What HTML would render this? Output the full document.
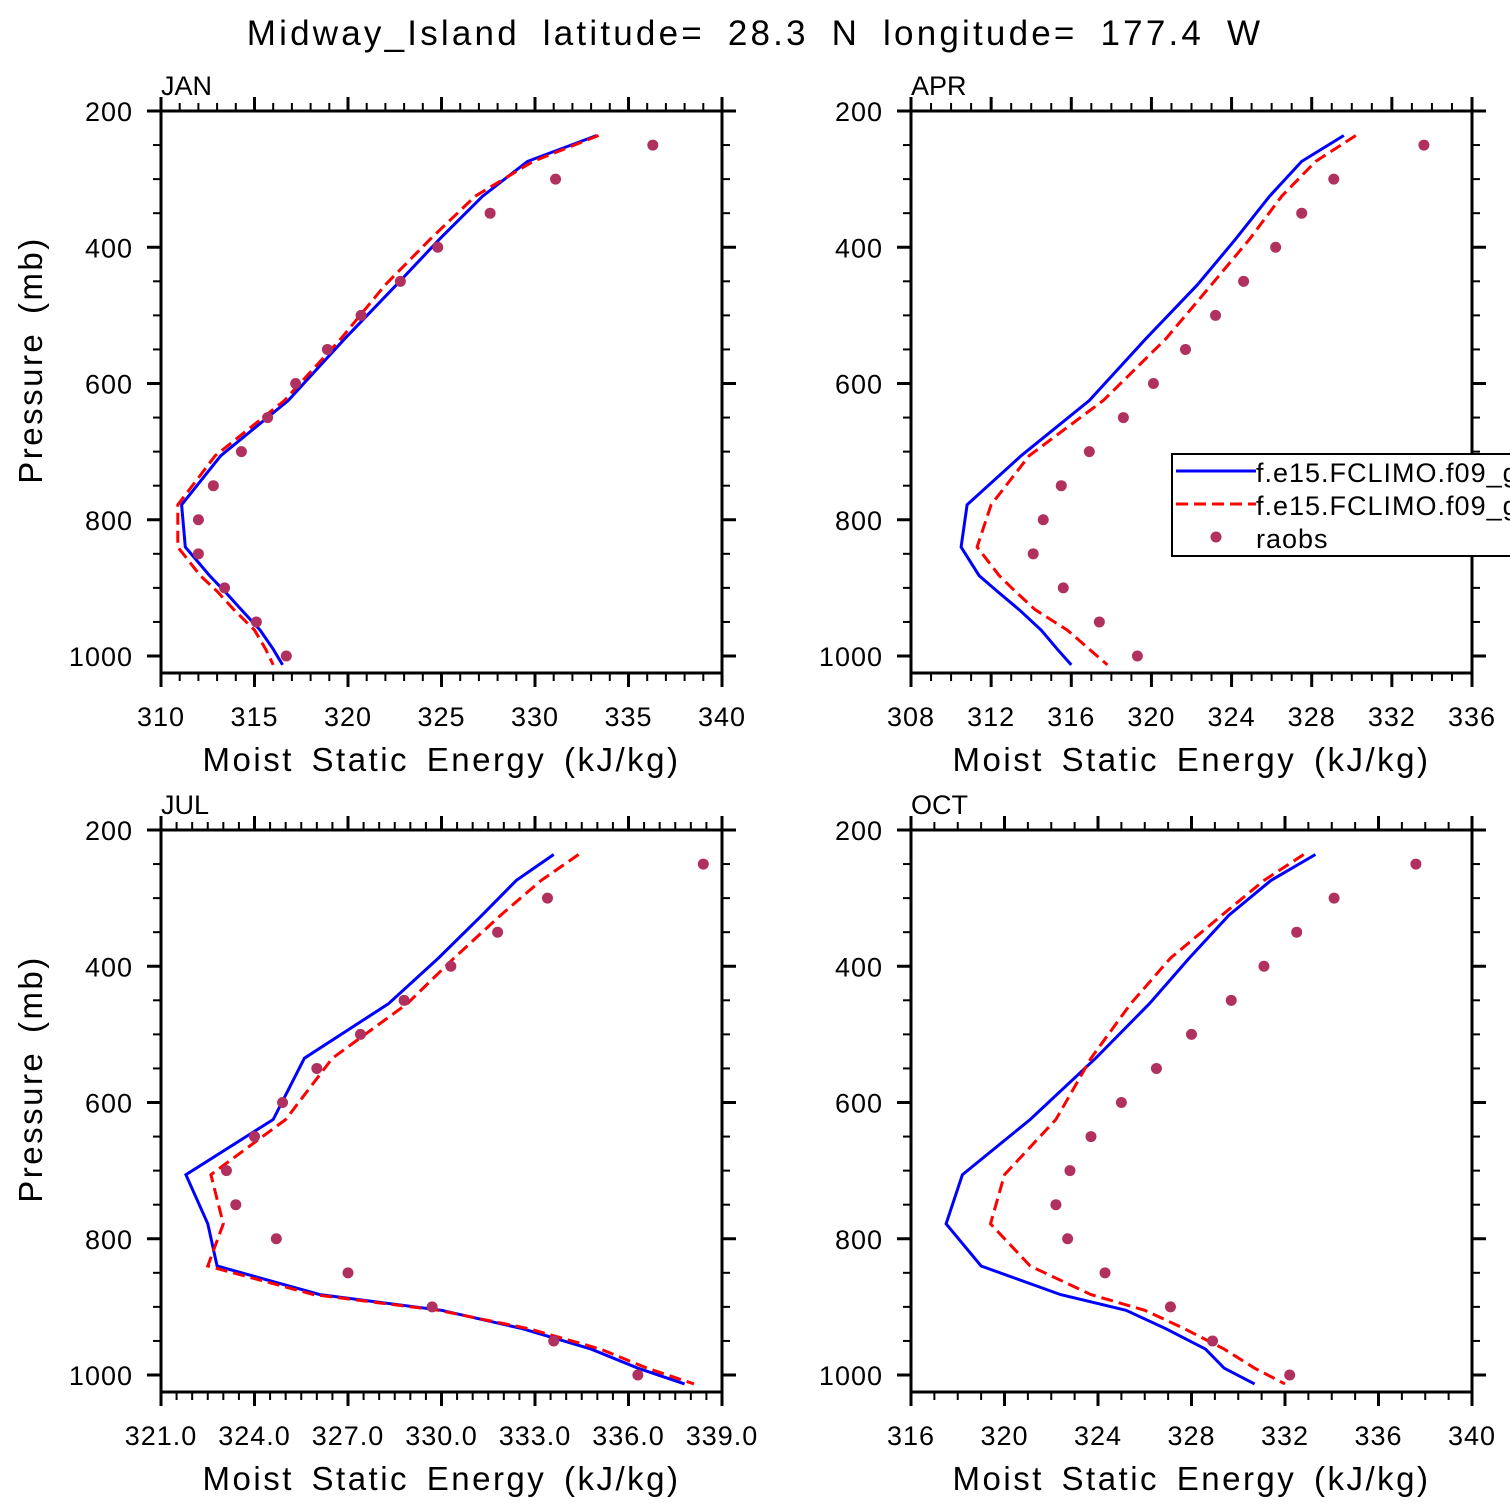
<!DOCTYPE html>
<html><head><meta charset="utf-8"><style>
html,body{margin:0;padding:0;background:#fff;}
svg{display:block;font-family:"Liberation Sans","DejaVu Sans",sans-serif;}
</style></head><body>
<svg id="chart" width="1510" height="1510" viewBox="0 0 1510 1510" xmlns="http://www.w3.org/2000/svg">
<text x="755" y="45" font-size="35" text-anchor="middle" letter-spacing="3.2" word-spacing="10">Midway_Island   latitude=  28.3 N  longitude=  177.4  W</text>
</svg>
<script>
const pLevels=[236,274,325,388,455,535,625,706,778,840,882,905,932,962,990,1013];
const raobP=[250,300,350,400,450,500,550,600,650,700,750,800,850,900,950,1000];
const janBlue=[333.3,329.6,327.2,324.9,322.6,319.8,316.8,313.2,311.1,311.3,312.6,313.4,314.3,315.3,316.0,316.5];
const janRed=[333.4,329.9,326.8,324.4,322.0,319.6,316.6,312.9,310.9,310.9,312.1,313.0,313.9,315.0,315.6,316.0];
const janObs=[336.3,331.1,327.6,324.8,322.8,320.7,318.9,317.2,315.7,314.3,312.8,312.0,312.0,313.4,315.1,316.7];
const aprBlue=[329.6,327.5,325.9,324.2,322.3,319.7,316.9,313.5,310.8,310.5,311.4,312.3,313.4,314.5,315.3,316.0];
const aprRed=[330.2,328.2,326.5,324.9,323.0,320.7,317.6,313.9,312.0,311.3,312.4,313.2,314.2,315.8,316.9,317.8];
const aprObs=[333.6,329.1,327.5,326.2,324.6,323.2,321.7,320.1,318.6,316.9,315.5,314.6,314.1,315.6,317.4,319.3];
const julBlue=[333.6,332.4,331.3,329.9,328.3,325.6,324.6,321.8,322.5,322.8,326.1,330.0,332.6,334.8,336.3,337.8];
const julRed=[334.4,333.2,331.9,330.4,328.9,326.5,325.0,322.6,323.0,322.5,325.9,329.9,332.8,335.1,336.6,338.1];
const julObs=[338.4,333.4,331.8,330.3,328.8,327.4,326.0,324.9,324.0,323.1,323.4,324.7,327.0,329.7,333.6,336.3];
const octBlue=[333.3,331.4,329.6,327.9,326.2,323.9,321.1,318.2,317.5,319.0,322.4,325.2,326.9,328.6,329.4,330.7];
const octRed=[332.8,331.1,329.3,327.1,325.4,323.7,322.2,320.0,319.4,321.1,323.7,326.0,327.7,329.4,330.7,332.0];
const octObs=[337.6,334.1,332.5,331.1,329.7,328.0,326.5,325.0,323.7,322.8,322.2,322.7,324.3,327.1,328.9,332.2];
const janTicks=["310","315","320","325","330","335","340"];
const aprTicks=["308","312","316","320","324","328","332","336"];
const julTicks=["321.0","324.0","327.0","330.0","333.0","336.0","339.0"];
const octTicks=["316","320","324","328","332","336","340"];
const pTicks=["200","400","600","800","1000"];

const NS="http://www.w3.org/2000/svg";
const svg=document.getElementById('chart');
function mk(tag,attrs,parent){const e=document.createElementNS(NS,tag);for(const k in attrs)e.setAttribute(k,attrs[k]);(parent||svg).appendChild(e);return e;}

const panels=[
 {name:'jan',label:'JAN',x0:161,y0:111,xmin:310,xmax:340,ticks:janTicks,minor:1,blue:janBlue,red:janRed,obs:janObs,leftLbl:true},
 {name:'apr',label:'APR',x0:911,y0:111,xmin:308,xmax:336,ticks:aprTicks,minor:1,blue:aprBlue,red:aprRed,obs:aprObs,leftLbl:false},
 {name:'jul',label:'JUL',x0:161,y0:830,xmin:321,xmax:339,ticks:julTicks,minor:0.5,blue:julBlue,red:julRed,obs:julObs,leftLbl:true},
 {name:'oct',label:'OCT',x0:911,y0:830,xmin:316,xmax:340,ticks:octTicks,minor:1,blue:octBlue,red:octRed,obs:octObs,leftLbl:false}
];
const W=561,H=562;
panels.forEach(P=>{
 const g=mk('g',{});
 
 
 const xs=v=>P.x0+(v-P.xmin)/(P.xmax-P.xmin)*W;
 const ys=p=>P.y0+(p-200)*0.68125;
 const step=(P.xmax-P.xmin)/(P.ticks.length-1);
 for(let v=P.xmin;v<=P.xmax+1e-6;v+=P.minor){
  const r=((v-P.xmin)/step)%1;
  const major=r<1e-6||r>1-1e-6;
  const L=major?14:8;const x=xs(v);
  mk('line',{x1:x,y1:P.y0+H,x2:x,y2:P.y0+H+L,stroke:'#000','stroke-width':major?3:2},g);
  mk('line',{x1:x,y1:P.y0,x2:x,y2:P.y0-L,stroke:'#000','stroke-width':major?3:2},g);
 }
 P.ticks.forEach((t,i)=>{
  const v=P.xmin+i*step;
  const tx=mk('text',{x:xs(v),y:P.y0+H+53,'font-size':27,'text-anchor':'middle','letter-spacing':1},g);tx.textContent=t;
  
  
 });
 for(let p=200;p<=1000;p+=50){
  const major=p%200===0;const L=major?14:8;const y=ys(p);
  mk('line',{x1:P.x0,y1:y,x2:P.x0-L,y2:y,stroke:'#000','stroke-width':major?3:2},g);
  mk('line',{x1:P.x0+W,y1:y,x2:P.x0+W+L,y2:y,stroke:'#000','stroke-width':major?3:2},g);
 }
 pTicks.forEach(t=>{
  const tx=mk('text',{x:P.x0-28,y:ys(+t)+10,'font-size':27,'text-anchor':'end','letter-spacing':1},g);tx.textContent=t;
  
  
 });
 mk('rect',{x:P.x0,y:P.y0,width:W,height:H,fill:'none',stroke:'#000','stroke-width':3},g);
 const lb=mk('text',{x:P.x0,y:P.y0-16,'font-size':27},g);lb.textContent=P.label;
 
 
 const xt=mk('text',{x:P.x0+W/2,y:P.y0+H+98,'font-size':33,'text-anchor':'middle','letter-spacing':2.5,'word-spacing':6},g);xt.textContent='Moist Static Energy (kJ/kg)';
 
 
 if(P.leftLbl){
  const yt=mk('text',{x:0,y:0,'font-size':33,'text-anchor':'middle','letter-spacing':2.5,'word-spacing':6,transform:`translate(42,${P.y0+H/2-32}) rotate(-90)`},g);yt.textContent='Pressure (mb)';
  
  
 }
 const pts=a=>a.map((v,i)=>xs(v).toFixed(1)+','+ys(pLevels[i]).toFixed(1)).join(' ');
 const bl=mk('polyline',{points:pts(P.blue),fill:'none',stroke:'#0000ff','stroke-width':3},g);
 
 
 const rd=mk('polyline',{points:pts(P.red),fill:'none',stroke:'#ff0000','stroke-width':3,'stroke-dasharray':'12,6'},g);
 
 
 P.obs.forEach((v,i)=>{
  const c=mk('circle',{cx:xs(v),cy:ys(raobP[i]),r:5.5,fill:'#b03060'},g);
  
  
 });
});
const lg=mk('g',{});


mk('rect',{x:1172,y:454,width:345,height:102,fill:'#fff',stroke:'#000','stroke-width':2},lg);
mk('line',{x1:1176,y1:471,x2:1256,y2:471,stroke:'#0000ff','stroke-width':3},lg);
mk('line',{x1:1176,y1:504,x2:1256,y2:504,stroke:'#ff0000','stroke-width':3,'stroke-dasharray':'12,6'},lg);
mk('circle',{cx:1216,cy:537,r:5.5,fill:'#b03060'},lg);
[['f.e15.FCLIMO.f09_g16',482],['f.e15.FCLIMO.f09_g16',515],['raobs',548]].forEach(([t,y])=>{
 const tx=mk('text',{x:1256,y:y,'font-size':27,'letter-spacing':1},lg);tx.textContent=t;
 
 
});
</script>
</body></html>
